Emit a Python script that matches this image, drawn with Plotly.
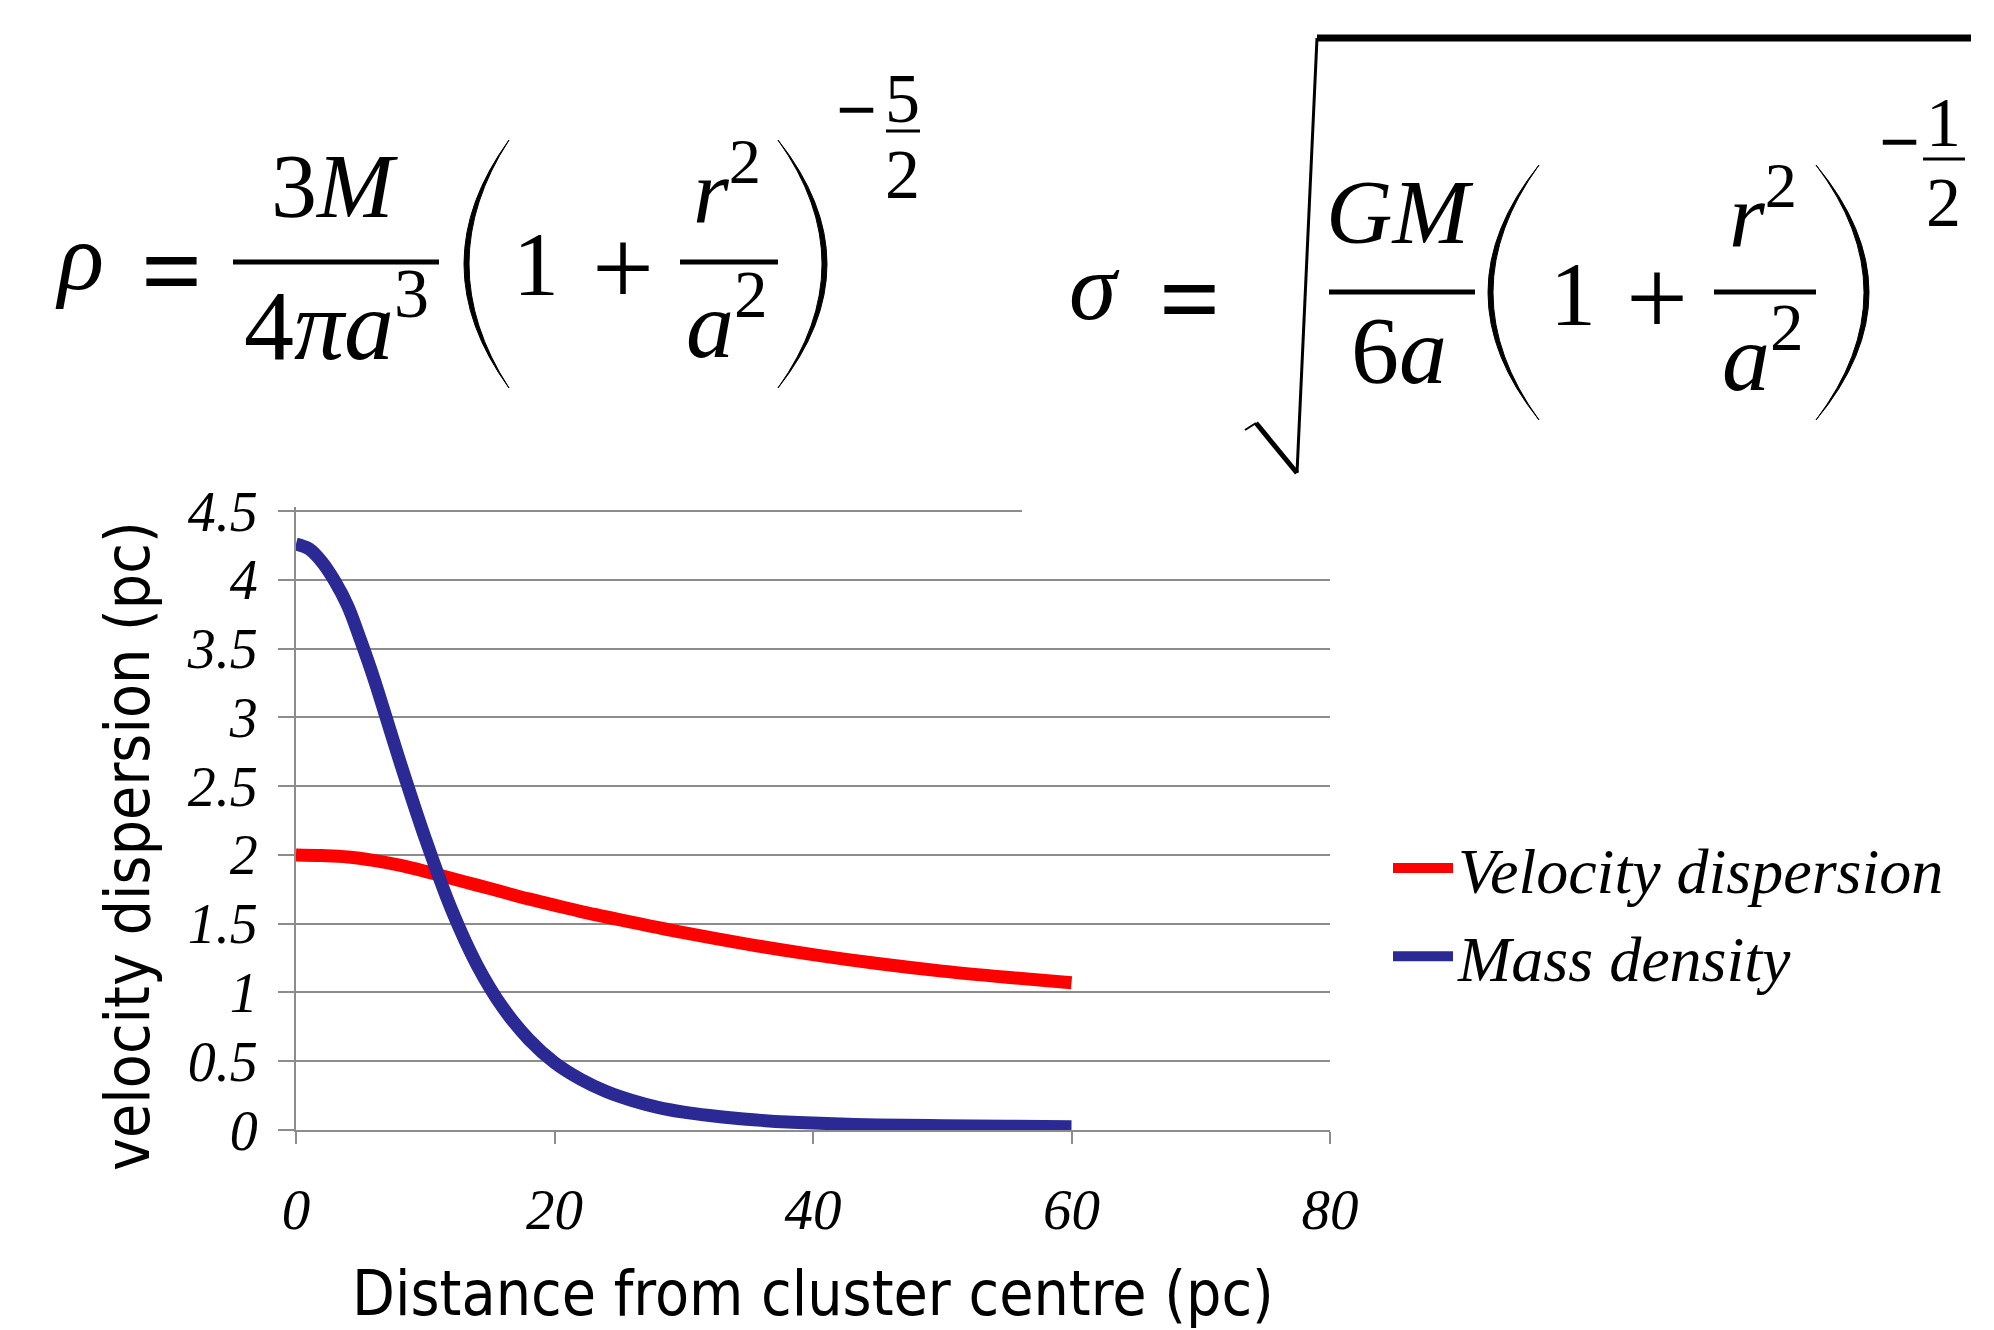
import plotly.graph_objects as go

# ---------------- data ----------------
velocity_r = [0, 2, 4, 6, 8, 10, 12, 14, 16, 18, 20, 22, 25, 30, 35, 40, 45, 50, 55, 60]
velocity_dispersion = [2.00, 1.995, 1.985, 1.96, 1.925, 1.88, 1.83, 1.78, 1.73, 1.68, 1.635,
                       1.59, 1.53, 1.435, 1.35, 1.275, 1.21, 1.155, 1.11, 1.07]

density_r = [0, 1, 2, 3, 4, 5, 6, 8, 10, 12, 14, 16, 18, 20, 22, 24, 26, 28, 30, 32, 34, 36,
             38, 40, 45, 50, 55, 60]
mass_density = [4.26, 4.225, 4.13, 3.99, 3.81, 3.56, 3.29, 2.69, 2.12, 1.61, 1.20, 0.89, 0.66,
                0.49, 0.37, 0.28, 0.215, 0.165, 0.13, 0.105, 0.085, 0.07, 0.058, 0.05, 0.037,
                0.031, 0.027, 0.024]

x_tick_vals = [0, 20, 40, 60, 80]
y_tick_vals = [0, 0.5, 1, 1.5, 2, 2.5, 3, 3.5, 4, 4.5]
y_tick_text = ["0", "0.5", "1", "1.5", "2", "2.5", "3", "3.5", "4", "4.5"]

series_names = ["Velocity dispersion", "Mass density"]
series_colors = ["#FF0000", "#2B2A94"]

x_title = "Distance from cluster centre (pc)"
y_title = "velocity dispersion (pc)"

# ---------------- layout geometry (screen pixels) ----------------
OFF = 8                      # default page margin around the plot div
W_FIG, H_FIG = 1994 - OFF, 1330 - OFF
PLOT_L, PLOT_R = 296, 1330   # x = 0 .. 80
PLOT_B, PLOT_T = 1130, 507   # y = 0 at bottom; 4.5 sits a few px below the top
PW = PLOT_R - PLOT_L
PH = PLOT_B - PLOT_T
Y_MAX = 4.5 * PH / (PLOT_B - 511)

ML = PLOT_L - OFF
MT = PLOT_T - OFF
MR = W_FIG - (PLOT_R - OFF)
MB = H_FIG - (PLOT_B - OFF)


def px(x):
    return (x - PLOT_L) / PW


def py(y):
    return (PLOT_B - y) / PH


GRID = "#8C8C8C"
SERIF = "Liberation Serif"
SANS = "DejaVu Sans Condensed"

fig = go.Figure()
fig.add_trace(go.Scatter(x=velocity_r, y=velocity_dispersion, mode="lines",
                         name=series_names[0], legendgroup="a",
                         line=dict(color=series_colors[0], width=13, shape="spline", smoothing=1)))
fig.add_trace(go.Scatter(x=density_r, y=mass_density, mode="lines",
                         name=series_names[1], legendgroup="b",
                         line=dict(color=series_colors[1], width=13, shape="spline", smoothing=1)))

fig.update_layout(
    width=W_FIG, height=H_FIG,
    margin=dict(l=ML, r=MR, t=MT, b=MB, autoexpand=False),
    paper_bgcolor="white", plot_bgcolor="white",
    showlegend=True,
    legend=dict(x=px(1388), xanchor="left", y=py(820), yanchor="top",
                font=dict(family=SERIF, size=64, color="black", style="italic"),
                bgcolor="rgba(0,0,0,0)", itemwidth=60, tracegroupgap=2,
                itemclick=False),
    xaxis=dict(range=[0, 80], tickmode="array", tickvals=x_tick_vals,
               showgrid=False, zeroline=False,
               showline=True, linecolor=GRID, linewidth=2,
               ticks="outside", ticklen=12, tickwidth=2, tickcolor=GRID,
               ticklabelstandoff=17,
               tickfont=dict(family=SERIF, size=57, color="black", style="italic"),
               title=dict(text=x_title, standoff=55,
                          font=dict(family=SANS, size=62, color="black"))),
    yaxis=dict(range=[0, Y_MAX], tickmode="array", tickvals=y_tick_vals, ticktext=y_tick_text,
               showgrid=True, gridcolor=GRID, gridwidth=2, zeroline=False,
               showline=True, linecolor=GRID, linewidth=2,
               ticks="outside", ticklen=16, tickwidth=2, tickcolor=GRID,
               ticklabelstandoff=9,
               tickfont=dict(family=SERIF, size=56, color="black", style="italic")),
)

shapes = []
annotations = []

# y-axis title (placed as in the reference, slightly below the plot's centre)
annotations.append(dict(text=y_title, x=px(127), y=py(846), xref="paper", yref="paper",
                        xanchor="center", yanchor="middle", textangle=-90, showarrow=False,
                        font=dict(family=SANS, size=62, color="black")))


def txt(s, x, y, size, bold=False):
    annotations.append(dict(text=s, x=px(x), y=py(y), xref="paper", yref="paper",
                            xanchor="center", yanchor="middle", showarrow=False,
                            font=dict(family=SERIF, size=size, color="black",
                                      weight="bold" if bold else "normal")))


def bar(x0, x1, y, w):
    shapes.append(dict(type="line", xref="paper", yref="paper",
                       x0=px(x0), x1=px(x1), y0=py(y), y1=py(y),
                       line=dict(color="black", width=w)))


def seg(x0, y0, x1, y1, w):
    shapes.append(dict(type="line", xref="paper", yref="paper",
                       x0=px(x0), x1=px(x1), y0=py(y0), y1=py(y1),
                       line=dict(color="black", width=w)))


def paren(xl, xr, yt, yb, left=True, thick=5):
    ym = (yt + yb) / 2
    if left:
        xe, xo, xi = xr, 2 * xl - xr, 2 * (xl + thick) - xr
    else:
        xe, xo, xi = xl, 2 * xr - xl, 2 * (xr - thick) - xl
    path = (f"M {px(xe)},{py(yt)} Q {px(xo)},{py(ym)} {px(xe)},{py(yb)} "
            f"Q {px(xi)},{py(ym)} {px(xe)},{py(yt)} Z")
    shapes.append(dict(type="path", xref="paper", yref="paper", path=path,
                       fillcolor="black", line=dict(color="black", width=1)))


# white backing of the second formula (it hides the end of the top gridline)
shapes.append(dict(type="rect", xref="paper", yref="paper", layer="above",
                   x0=px(1022), x1=px(2000), y0=py(0), y1=py(516),
                   fillcolor="white", line=dict(width=0)))

# ---- formula 1: rho ----
txt("<i>ρ</i>", 79, 256, 96)
txt("=", 172, 270, 108, bold=True)
txt("3<i>M</i>", 334, 186, 92)
bar(233, 439, 262, 5)
txt("4<i>πa</i><sup>3</sup>", 336, 318, 100)
paren(464, 509, 140, 388, left=True)
txt("1", 536, 264, 92)
txt("+", 623, 268, 110)
txt("<i>r</i><sup>2</sup>", 727, 184, 92)
bar(680, 778, 262, 5)
txt("<i>a</i><sup>2</sup>", 727, 318, 96)
paren(778, 827, 140, 388, left=False)
txt("−", 856, 110, 72, bold=True)
txt("5", 902, 98, 70)
bar(886, 920, 131, 3)
txt("2", 902, 174, 70)

# ---- formula 2: sigma ----
txt("<i>σ</i>", 1094, 286, 96)
txt("=", 1190, 298, 108, bold=True)
seg(1245, 430, 1256, 423, 2)
seg(1256, 423, 1297, 473, 5)
seg(1297, 473, 1317, 38, 3)
bar(1317, 1971, 38, 7)
txt("<i>GM</i>", 1399, 212, 92)
bar(1329, 1475, 292, 5)
txt("6<i>a</i>", 1399, 350, 96)
paren(1488, 1539, 165, 420, left=True)
txt("1", 1573, 294, 92)
txt("+", 1657, 298, 110)
txt("<i>r</i><sup>2</sup>", 1763, 208, 92)
bar(1714, 1816, 292, 5)
txt("<i>a</i><sup>2</sup>", 1763, 350, 96)
paren(1816, 1869, 165, 420, left=False)
txt("−", 1899, 142, 72, bold=True)
txt("1", 1943, 123, 70)
bar(1923, 1965, 159, 3)
txt("2", 1943, 202, 70)

fig.update_layout(shapes=shapes, annotations=annotations)

fig.write_html("out.html")
